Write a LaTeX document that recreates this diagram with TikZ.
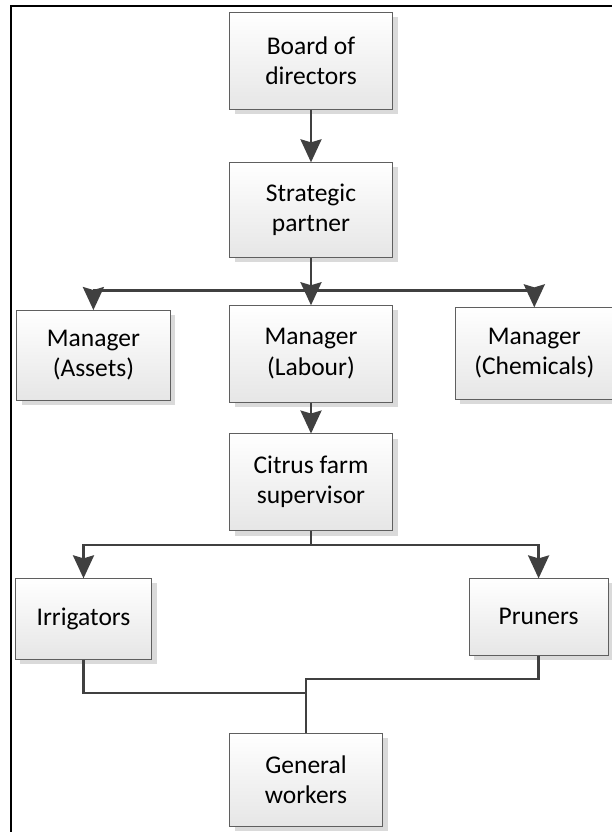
\documentclass[tikz,border=0pt]{standalone}
\usepackage{fontspec}
\setmainfont{Carlito}
\usetikzlibrary{arrows.meta,shadows}
\definecolor{lineclr}{HTML}{404040}
\definecolor{boxedge}{HTML}{5F5F5F}
\definecolor{shadowclr}{HTML}{DADADA}
\definecolor{boxbottom}{HTML}{E6E6E6}
\begin{document}
\begin{tikzpicture}[x=1pt,y=-1pt,
  orgbox/.style={draw=boxedge, line width=0.9pt, top color=white, bottom color=boxbottom,
    drop shadow={shadow xshift=5pt, shadow yshift=-5pt, fill=shadowclr, opacity=1},
    align=center, inner sep=0pt, font=\fontsize{25.5}{30.5}\selectfont},
  conn/.style={draw=lineclr, line width=2.6pt},
  arr/.style={conn, -{Stealth[length=23pt,width=21pt,inset=3pt]}, shorten >=-0.5pt},
  frameline/.style={draw=black, line width=2pt}]
\useasboundingbox (0,0) rectangle (612,832);
\fill[white] (0,0) rectangle (612,832);
% frame
\draw[frameline] (10.5,832) -- (10.5,6.5) -- (612,6.5);
% boxes
\node[orgbox, minimum width=163pt, minimum height=97pt] (board) at (311,60.8) {Board of\\directors};
\node[orgbox, minimum width=163pt, minimum height=95pt] (strat) at (311,209.8) {Strategic\\partner};
\node[orgbox, minimum width=153.4pt, minimum height=90pt] (assets) at (93.4,355) {Manager\\(Assets)};
\node[orgbox, minimum width=163pt, minimum height=97pt] (labour) at (311,353.7) {Manager\\(Labour)};
\node[orgbox, minimum width=158pt, minimum height=92pt] (chem) at (534.3,353.3) {Manager\\(Chemicals)};
\node[orgbox, minimum width=163pt, minimum height=97pt] (citrus) at (311,482) {Citrus farm\\supervisor};
\node[orgbox, minimum width=136.6pt, minimum height=81pt] (irrig) at (83.5,618.8) {Irrigators};
\node[orgbox, minimum width=138.7pt, minimum height=76.7pt] (pruners) at (538.6,616.7) {Pruners};
\node[orgbox, minimum width=153pt, minimum height=92.7pt] (general) at (306,779.7) {General\\workers};
% bus coordinates
\coordinate (busA) at (311,290.7);
\coordinate (busB) at (311,545);
% connectors
\draw[arr] (board.south) -- (strat.north);
\draw[arr] (strat.south) -- (labour.north);
\draw[conn] (assets.north |- busA) -- (chem.north |- busA);
\draw[arr] (assets.north |- busA) -- (assets.north);
\draw[arr] (chem.north |- busA) -- (chem.north);
\draw[arr] (labour.south) -- (citrus.north);
\draw[conn] (citrus.south) -- (busB);
\draw[arr] (busB) -| (irrig.north);
\draw[arr] (busB) -| (pruners.north);
\draw[conn] (irrig.south) -- ++(0,33.4) -| (general.north);
\draw[conn] (pruners.south) -- ++(0,23.3) -| (general.north);
\end{tikzpicture}
\end{document}
